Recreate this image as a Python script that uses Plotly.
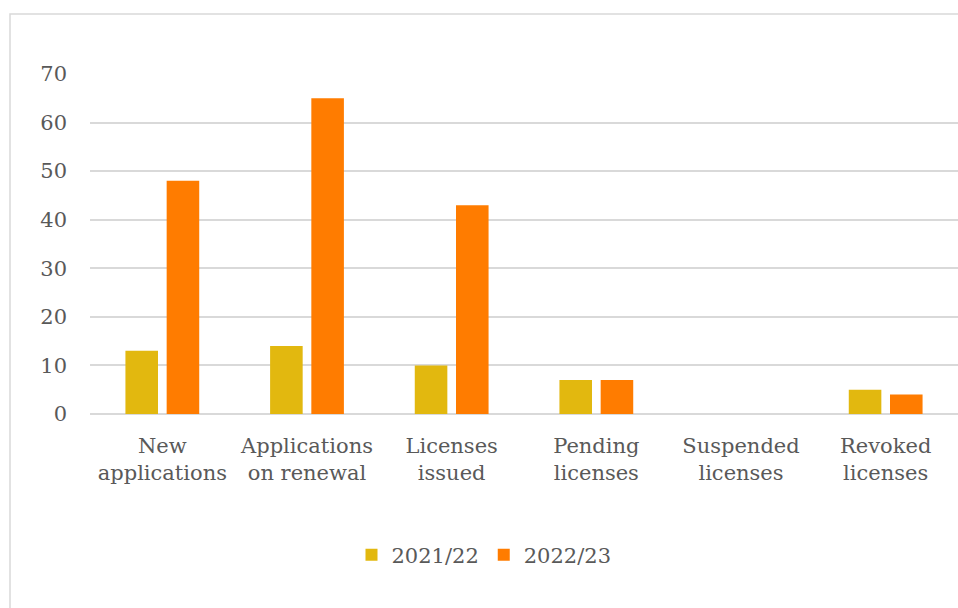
import plotly.graph_objects as go

categories = ["New<br>applications", "Applications<br>on renewal", "Licenses<br>issued",
              "Pending<br>licenses", "Suspended<br>licenses", "Revoked<br>licenses"]
series_names = ["2021/22", "2022/23"]
values_2021 = [13, 14, 10, 7, 0, 5]
values_2022 = [48, 65, 43, 7, 0, 4]
y_ticks = [0, 10, 20, 30, 40, 50, 60, 70]

colors = ["#E2B80F", "#FF7C00"]
font_family = "DejaVu Serif"
text_color = "#595959"
fsize = 21

fig = go.Figure()
for name, vals, col in zip(series_names, [values_2021, values_2022], colors):
    fig.add_trace(go.Bar(x=categories, y=vals, name=name, marker_color=col,
                         marker_line_width=0))

W, H = 958, 608
ml, mr, mt, mb = 90, 0, 74, 194
pw = W - ml - mr
ph = H - mt - mb

def px_x(p):
    return (p - ml) / pw

def px_y(p):
    return 1 - (p - mt) / ph

fig.update_layout(
    width=W, height=H,
    margin=dict(l=ml, r=mr, t=mt, b=mb),
    paper_bgcolor="white", plot_bgcolor="white",
    barmode="group", bargap=0.43, bargroupgap=0.21,
    font=dict(family=font_family, size=fsize, color=text_color),
    showlegend=True,
    legend=dict(orientation="h", x=px_x(484), xanchor="center", y=px_y(555), yanchor="middle",
                font=dict(size=fsize, color=text_color), itemwidth=30, traceorder="normal"),
    xaxis=dict(showgrid=False, showline=False, ticks="", tickfont=dict(size=fsize),
               ticklabelstandoff=17, fixedrange=True),
    yaxis=dict(range=[0, 70], tickvals=y_ticks, showgrid=True, gridcolor="#D9D9D9",
               gridwidth=1.5, zeroline=True, zerolinecolor="#D9D9D9", zerolinewidth=2,
               showline=False, ticks="", ticklabelstandoff=22, tickfont=dict(size=fsize)),
    shapes=[dict(type="rect", xref="paper", yref="paper",
                 x0=px_x(10), x1=px_x(W + 20), y0=px_y(H + 20), y1=px_y(14),
                 line=dict(color="#D9D9D9", width=1.5), fillcolor="rgba(0,0,0,0)",
                 layer="below")],
)

fig.write_html("out.html")
